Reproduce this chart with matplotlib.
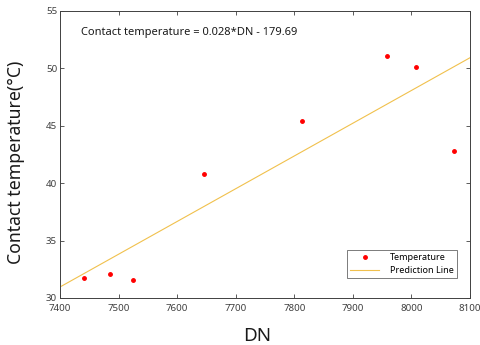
import matplotlib
matplotlib.use("Agg")
import matplotlib.pyplot as plt

dn = [7441, 7485, 7524, 7646, 7813, 7958, 8007, 8073]
temp = [31.7, 32.1, 31.6, 40.8, 45.4, 51.1, 50.1, 42.8]
pred_dn = [7400, 8100]
pred_temp = [30.96, 50.93]
xticks = [7400, 7500, 7600, 7700, 7800, 7900, 8000, 8100]
yticks = [30, 35, 40, 45, 50, 55]

plt.rcParams['font.family'] = ['Noto Sans', 'DejaVu Sans']

fig = plt.figure(figsize=(4.81, 3.45), dpi=100)
ax = fig.add_axes([60/481, 1-298/345, 410/481, 287/345])

ax.plot(dn, temp, 'o', color='#FF0000', markersize=2.5, label='Temperature', zorder=3)
ax.plot(pred_dn, pred_temp, '-', color='#EDB120', linewidth=0.8, alpha=0.8, label='Prediction Line')

ax.set_xlim(7400, 8100)
ax.set_ylim(30, 55)
ax.set_xticks(xticks)
ax.set_yticks(yticks)
ax.tick_params(direction='in', length=3, width=0.6, labelsize=7, colors='#404040',
               top=True, right=True, pad=2)
ax.tick_params(axis='x', pad=4)
for s in ax.spines.values():
    s.set_color('#404040')
    s.set_linewidth(0.7)

ax.set_xlabel('DN', fontsize=13.5, color='#1a1a1a')
ax.xaxis.set_label_coords(0.48, -0.1)
ax.set_ylabel('Contact temperature(°C)', fontsize=12.7, color='#1a1a1a')
ax.yaxis.set_label_coords(-0.085, 0.474)

ax.text(7436, 53.1, 'Contact temperature = 0.028*DN - 179.69', fontsize=8.0,
        color='#1a1a1a', va='center')

leg = ax.legend(loc='lower right', bbox_to_anchor=(0.968, 0.0697), fontsize=6.5,
                frameon=True, fancybox=False, edgecolor='#404040', handlelength=3.2,
                borderpad=0.35, labelspacing=0.4, handletextpad=1.2, borderaxespad=0)
leg.get_frame().set_linewidth(0.6)

fig.savefig('out.png', dpi=100)
